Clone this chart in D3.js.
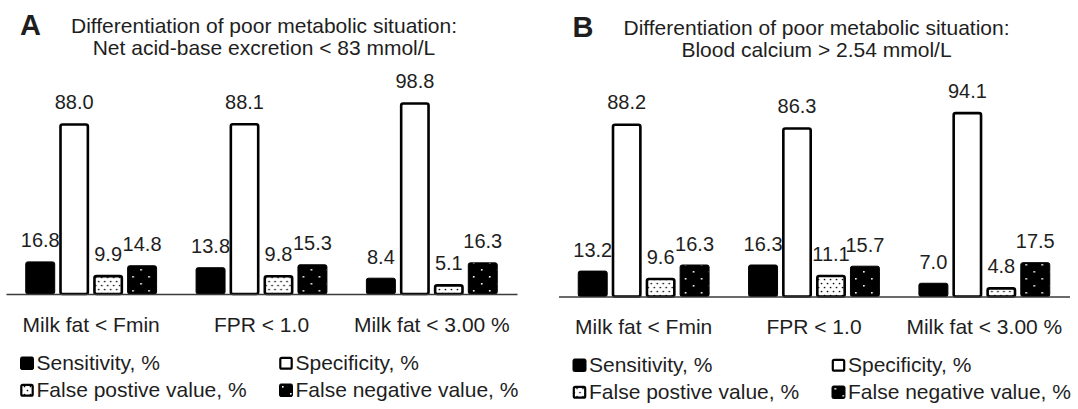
<!DOCTYPE html>
<html>
<head>
<meta charset="utf-8">
<script src="https://cdn.jsdelivr.net/npm/d3@7"></script>
<style>
  html, body { margin: 0; padding: 0; background: #fff; }
  svg { display: block; }
  text { font-family: "Liberation Sans", Arial, sans-serif; fill: #1e1e1e; }
</style>
</head>
<body>
<svg id="chart" width="1078" height="409"></svg>
<script>
// Diagnostic indicators for each milk-based criterion
const categories = ["Milk fat < Fmin", "FPR < 1.0", "Milk fat < 3.00 %"];
const seriesKeys = ["sens", "spec", "fpv", "fnv"];
const seriesLabels = ["Sensitivity, %", "Specificity, %", "False postive value, %", "False negative value, %"];

// Panel A: net acid-base excretion < 83 mmol/L
const sensA = [16.8, 13.8, 8.4];
const specA = [88.0, 88.1, 98.8];
const fpvA  = [9.9, 9.8, 5.1];
const fnvA  = [14.8, 15.3, 16.3];

// Panel B: blood calcium > 2.54 mmol/L
const sensB = [13.2, 16.3, 7.0];
const specB = [88.2, 86.3, 94.1];
const fpvB  = [9.6, 11.1, 4.8];
const fnvB  = [16.3, 15.7, 17.5];

const titleLine1 = "Differentiation of poor metabolic situation:";
const titleA2 = "Net acid-base excretion < 83 mmol/L";
const titleB2 = "Blood calcium > 2.54 mmol/L";

const svg = d3.select("#chart");
svg.append("rect").attr("width", 1078).attr("height", 409).attr("fill", "#fff");

// Fill patterns for the two predictive-value series
const defs = svg.append("defs");
const pFp = defs.append("pattern").attr("id", "dotsLight")
  .attr("patternUnits", "userSpaceOnUse").attr("width", 6).attr("height", 8);
pFp.append("rect").attr("width", 6).attr("height", 8).attr("fill", "#fff");
pFp.append("circle").attr("cx", 1.5).attr("cy", 1.5).attr("r", 0.85).attr("fill", "#000");
pFp.append("circle").attr("cx", 4.5).attr("cy", 5.5).attr("r", 0.85).attr("fill", "#000");

const pFn = defs.append("pattern").attr("id", "dotsDark")
  .attr("patternUnits", "userSpaceOnUse").attr("width", 16).attr("height", 14);
pFn.append("rect").attr("width", 16).attr("height", 14).attr("fill", "#000");
pFn.append("rect").attr("x", 3).attr("y", 3).attr("width", 1.6).attr("height", 1.6).attr("fill", "#fff");
pFn.append("rect").attr("x", 11).attr("y", 10).attr("width", 1.6).attr("height", 1.6).attr("fill", "#fff");

const styles = {
  sens: { fill: "#000", stroke: "#000", sw: 1 },
  spec: { fill: "#fff", stroke: "#000", sw: 2.6 },
  fpv:  { fill: "url(#dotsLight)", stroke: "#000", sw: 2.6 },
  fnv:  { fill: "url(#dotsDark)", stroke: "#000", sw: 1 }
};

function drawPanel(opts) {
  const g = svg.append("g").attr("transform", `translate(${opts.dx},${opts.dy})`);
  const baseline = 294;

  const x0 = d3.scaleBand().domain(categories).range([6, 517])
    .paddingInner(0.226).paddingOuter(0.113);
  const x1 = d3.scaleBand().domain(seriesKeys).range([0, x0.bandwidth()])
    .paddingInner(0.1176).paddingOuter(0);
  const y = d3.scaleLinear().domain([0, 120]).range([baseline + opts.extra, 61 - opts.dy]);

  const rows = categories.map((c, i) => ({
    cat: c,
    vals: seriesKeys.map(k => ({ key: k, v: opts.data[k][i] }))
  }));

  const groups = g.selectAll("g.grp").data(rows).join("g")
    .attr("class", "grp")
    .attr("transform", d => `translate(${x0(d.cat)},0)`);

  groups.selectAll("rect").data(d => d.vals).join("rect")
    .attr("x", d => x1(d.key) + styles[d.key].sw / 2)
    .attr("y", d => y(d.v) + styles[d.key].sw / 2)
    .attr("width", d => x1.bandwidth() - styles[d.key].sw)
    .attr("height", d => Math.max(0, y(0) - y(d.v) - styles[d.key].sw / 2))
    .attr("rx", 2)
    .attr("fill", d => styles[d.key].fill)
    .attr("stroke", d => styles[d.key].stroke)
    .attr("stroke-width", d => styles[d.key].sw);

  groups.selectAll("text").data(d => d.vals).join("text")
    .attr("x", d => x1(d.key) + x1.bandwidth() / 2)
    .attr("y", d => y(d.v) - 14)
    .attr("text-anchor", "middle")
    .style("font-size", "20px")
    .text(d => d.v.toFixed(1));

  // Category axis
  const axis = g.append("g").attr("transform", `translate(0,${y(0)})`)
    .call(d3.axisBottom(x0).tickSize(0).tickSizeOuter(0).tickPadding(23));
  axis.select(".domain").attr("stroke", "#3a3a3a").attr("stroke-width", 1.6);
  axis.selectAll(".tick text")
    .style("font-size", "21px")
    .style("font-family", '"Liberation Sans", Arial, sans-serif')
    .attr("fill", "#1e1e1e");

  // Titles
  g.append("text").attr("x", 20).attr("y", 34.5)
    .style("font-size", "29px").style("font-weight", "bold").attr("fill", "#000")
    .text(opts.letter);
  g.append("text").attr("x", 264).attr("y", 32.8).attr("text-anchor", "middle")
    .style("font-size", "21px").text(titleLine1);
  g.append("text").attr("x", 264).attr("y", 55).attr("text-anchor", "middle")
    .style("font-size", "21px").text(opts.title2);

  // Legend
  const legCols = [20, 279];
  const legRows = [370, 397];
  const order = [0, 1, 2, 3];
  const leg = g.selectAll("g.leg").data(order).join("g")
    .attr("class", "leg")
    .attr("transform", i => `translate(${legCols[i % 2]},${legRows[Math.floor(i / 2)]})`);
  leg.append("rect")
    .attr("x", i => styles[seriesKeys[i]].sw / 2)
    .attr("y", i => -13.5 + styles[seriesKeys[i]].sw / 2)
    .attr("width", i => 14 - styles[seriesKeys[i]].sw)
    .attr("height", i => 13.5 - styles[seriesKeys[i]].sw)
    .attr("rx", 1.5)
    .attr("fill", i => styles[seriesKeys[i]].fill)
    .attr("stroke", "#000")
    .attr("stroke-width", i => Math.min(styles[seriesKeys[i]].sw, 2.2));
  leg.append("text").attr("x", 16.5).attr("y", 0)
    .style("font-size", "21px")
    .text(i => seriesLabels[i]);
}

drawPanel({
  dx: 0, dy: 0, extra: 0, letter: "A", title2: titleA2,
  data: { sens: sensA, spec: specA, fpv: fpvA, fnv: fnvA }
});
drawPanel({
  dx: 552.5, dy: 2, extra: 0.5, letter: "B", title2: titleB2,
  data: { sens: sensB, spec: specB, fpv: fpvB, fnv: fnvB }
});
</script>
</body>
</html>
